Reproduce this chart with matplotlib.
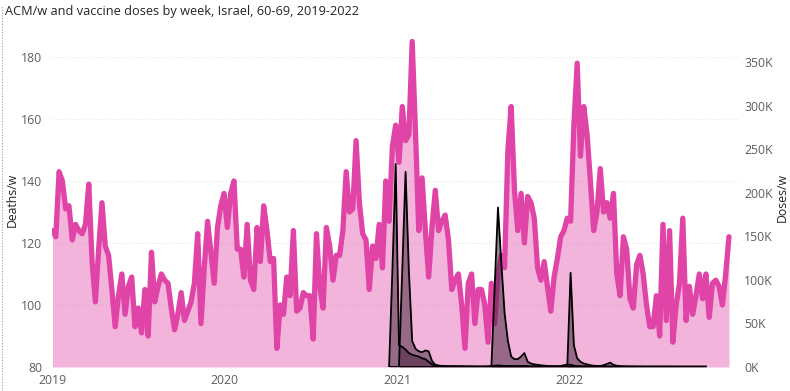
import pandas as pd
import matplotlib
matplotlib.use("Agg")
import matplotlib.pyplot as plt
import matplotlib.ticker as mticker
import matplotlib.dates as mdates
from matplotlib.lines import Line2D

plt.rcParams["font.family"] = ["Open Sans", "DejaVu Sans"]

# weekly all-cause deaths, 60-69, starting 2019-01-01
first_week = "2019-01-01"
deaths = [
    124, 122, 143, 140, 131, 132, 121, 126, 124, 123,
    126, 139, 114, 101, 118, 133, 119, 116, 105, 93,
    103, 110, 97, 106, 109, 93, 99, 91, 105, 90,
    117, 101, 106, 110, 108, 107, 99, 92, 97, 104,
    95, 98, 101, 107, 123, 94, 112, 127, 117, 107,
    125, 132, 136, 125, 136, 140, 118, 118, 109, 126,
    108, 105, 125, 114, 132, 124, 114, 115, 86, 100,
    97, 109, 103, 124, 98, 99, 104, 103, 103, 89,
    123, 106, 99, 125, 119, 108, 116, 116, 124, 143,
    130, 131, 153, 133, 123, 121, 105, 119, 115, 126,
    112, 140, 127, 151, 158, 146, 164, 153, 155, 185,
    156, 124, 141, 124, 109, 125, 137, 124, 127, 129,
    121, 105, 108, 110, 100, 86, 107, 110, 94, 105,
    105, 100, 88, 107, 94, 110, 116, 112, 150, 164,
    137, 124, 136, 120, 135, 133, 128, 112, 108, 114,
    106, 98, 109, 115, 122, 124, 128, 127, 158, 178,
    148, 164, 155, 140, 124, 130, 144, 130, 133, 128,
    136, 110, 103, 122, 118, 102, 99, 113, 116, 110,
    100, 93, 93, 103, 90, 126, 95, 124, 88, 100,
    107, 128, 95, 106, 97, 103, 110, 102, 110, 96,
    107, 108, 106, 100, 110, 122,
]

# weekly vaccine doses (thousands), starting 2020-12-15
dose_first_week = "2020-12-15"
dose1 = [
    0, 110, 233, 25, 23, 20, 16, 14, 13, 12, 10, 9, 6, 3, 2, 1.5, 1.2, 1.0,
    1.0, 0.9, 0.9, 0.8, 0.8, 0.7, 0.7, 0.7, 0.6, 0.6,
    0.6, 0.6, 0.7, 1.0, 1.5, 1.8, 1.5, 1.2, 1.0, 0.9,
    0.8, 0.8, 1.0, 1.2, 0.9, 0.7, 0.6, 0.5, 0.5, 0.5,
    0.4, 0.4, 0.4, 0.4, 0.4, 0.5, 0.6, 0.5, 0.4, 0.4,
    0.4, 0.3, 0.3, 0.3, 0.3, 0.3, 0.3, 0.3, 0.3, 0.3,
    0.3, 0.3, 0.2, 0.2, 0.2, 0.2, 0.2, 0.2, 0.2, 0.2,
    0.2, 0.2, 0.2, 0.2, 0.2, 0.2, 0.2, 0.2, 0.2, 0.2,
    0.2, 0.2, 0.2, 0.2, 0.2, 0.2, 0.2, 0.2, 0.2,
]
dose2 = [
    0, 0, 0, 0, 112, 224, 110, 30, 21, 18, 17, 19, 18, 7, 2.5, 1.5, 1.2, 1.0,
    0.9, 0.8, 0.8, 0.7, 0.7, 0.6, 0.6, 0.6, 0.5, 0.5,
    0.5, 0.5, 0.6, 0.8, 1.0, 1.2, 1.2, 1.0, 0.9, 0.8,
    0.8, 0.8, 0.9, 1.0, 0.8, 0.6, 0.5, 0.5, 0.4, 0.4,
    0.4, 0.4, 0.4, 0.4, 0.4, 0.4, 0.5, 0.4, 0.4, 0.3,
    0.3, 0.3, 0.3, 0.3, 0.3, 0.3, 0.3, 0.3, 0.3, 0.3,
    0.3, 0.2, 0.2, 0.2, 0.2, 0.2, 0.2, 0.2, 0.2, 0.2,
    0.2, 0.2, 0.2, 0.2, 0.2, 0.2, 0.2, 0.2, 0.2, 0.2,
    0.2, 0.2, 0.2, 0.2, 0.2, 0.2, 0.2, 0.2, 0.2,
]
dose3 = [
    0, 0, 0, 0, 0, 0, 0, 0, 0, 0, 0, 0, 0, 0, 0, 0,
    0, 0, 0, 0, 0, 0, 0, 0, 0, 0, 0, 0, 0, 0, 0,
    0, 92, 183, 120, 62, 30, 12, 9, 9, 12, 16, 6, 4, 3, 2.5, 2, 1.5,
    1.2, 1.0, 1.0, 1.0, 1.2, 2.0, 3.0, 2.5, 1.5, 1.0,
    0.8, 0.7, 0.6, 0.6, 0.5, 0.5, 0.5, 0.5, 0.5, 0.5,
    0.4, 0.4, 0.4, 0.4, 0.4, 0.4, 0.4, 0.4, 0.4, 0.4,
    0.4, 0.4, 0.4, 0.4, 0.4, 0.4, 0.4, 0.4, 0.4, 0.4,
    0.3, 0.3, 0.3, 0.3, 0.3, 0.3, 0.3, 0.3, 0.3,
]
dose4 = [
    0, 0, 0, 0, 0, 0, 0, 0, 0, 0, 0, 0, 0, 0, 0, 0, 0, 0,
    0, 0, 0, 0, 0, 0, 0, 0, 0, 0, 0, 0, 0, 0, 0, 0, 0, 0,
    0, 0, 0, 0, 0, 0, 0, 0, 0, 0, 0, 0, 0, 0, 0, 0, 0, 0,
    0, 108, 25, 10, 6, 4, 3, 2, 1.5, 1.2, 1.2, 2, 3.5, 5, 2.5, 1.5,
    1.0, 0.8, 0.7, 0.6, 0.6, 0.5, 0.5, 0.5,
    0.4, 0.4, 0.4, 0.4, 0.4, 0.4, 0.4, 0.4, 0.4, 0.4,
    0.4, 0.4, 0.4, 0.4, 0.4, 0.4, 0.4, 0.4, 0.4,
]

title = "ACM/w and vaccine doses by week, Israel, 60-69, 2019-2022"
pink = "#E044A7"
dose_fill = "#45223a"
tick_color = "#605e5c"
text_color = "#252423"

weeks = pd.date_range(first_week, periods=len(deaths), freq="7D")
dose_weeks = pd.date_range(dose_first_week, periods=len(dose1), freq="7D")

W, H = 790, 391
fig = plt.figure(figsize=(W / 100, H / 100), dpi=100)
ax = fig.add_axes([52 / W, 1 - 367 / H, (737 - 52) / W, (367 - 30) / H])

ax.fill_between(weeks, 80, deaths, color=pink, alpha=0.4, lw=0)
ax.plot(weeks, deaths, color=pink, lw=3.8, solid_joinstyle="round",
        solid_capstyle="round")
ax.set_ylim(80, 188.7)
ax.set_yticks([80, 100, 120, 140, 160, 180])
ax.grid(axis="y", color="#e4e4e4", linestyle=(0, (1, 2)), linewidth=0.8)
ax.set_axisbelow(True)

start = pd.Timestamp(first_week)
ax.set_xlim(start - pd.Timedelta(days=1), start + pd.Timedelta(days=1452))
ax.xaxis.set_major_locator(mdates.YearLocator())
ax.xaxis.set_major_formatter(mdates.DateFormatter("%Y"))

ax2 = ax.twinx()
for d in [dose1, dose2, dose3, dose4]:
    ax2.fill_between(dose_weeks, 0, d, color=dose_fill, alpha=0.52, lw=0)
    ax2.plot(dose_weeks, d, color="black", lw=1.3)
ax2.set_ylim(0, 386.7)
ax2.set_yticks([0, 50, 100, 150, 200, 250, 300, 350])
ax2.yaxis.set_major_formatter(mticker.FuncFormatter(lambda v, p: f"{v:.0f}K"))

for a in (ax, ax2):
    for s in a.spines.values():
        s.set_visible(False)
    a.tick_params(length=0, colors=tick_color, labelsize=8.8)
ax.tick_params(axis="y", pad=7)
ax.tick_params(axis="x", pad=5)
ax2.tick_params(axis="y", pad=5)

# axis titles
fig.text(12 / W, 1 - 200 / H, "Deaths/w", rotation=90, ha="center",
         va="center", fontsize=8.8, color=text_color)
fig.text(782 / W, 1 - 197 / H, "Doses/w", rotation=90, ha="center",
         va="center", fontsize=8.8, color=text_color)

fig.text(5 / W, 1 - 11 / H, title, ha="left", va="center", fontsize=9.2,
         color=text_color)
fig.add_artist(Line2D([0.002, 0.002], [0, 0.985], transform=fig.transFigure,
                      color="#a0a0a0", lw=0.8, linestyle=(0, (1, 1.5))))

fig.savefig("out.png", dpi=100)
